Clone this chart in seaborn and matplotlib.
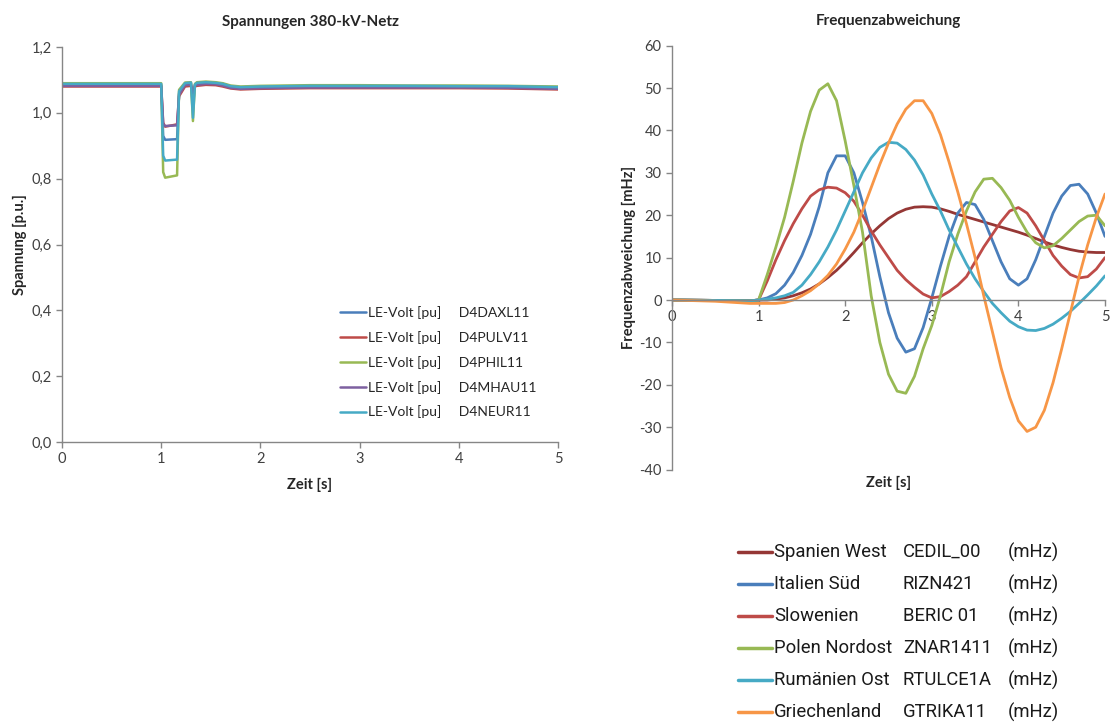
import numpy as np
import pandas as pd
import seaborn as sns
import matplotlib.pyplot as plt
from matplotlib.lines import Line2D

# Spannungen 380-kV-Netz (left chart)
volt_time = [0.0, 1.0, 1.02, 1.04, 1.16, 1.18, 1.24, 1.30, 1.32, 1.34, 1.36,
             1.45, 1.55, 1.62, 1.70, 1.80, 2.0, 2.5, 3.0, 3.5, 4.0, 4.5, 5.0]
volt_codes = ["D4DAXL11", "D4PULV11", "D4PHIL11", "D4MHAU11", "D4NEUR11"]
volt_colors = ["#4A7EBB", "#BE4B48", "#98B954", "#7D60A0", "#46AAC5"]
volt_daxl = [1.085, 1.085, 0.930, 0.918, 0.920, 1.060, 1.088, 1.090, 1.020, 1.085, 1.090,
             1.092, 1.090, 1.088, 1.080, 1.076, 1.078, 1.080, 1.080, 1.080, 1.079, 1.079, 1.076]
volt_pulv = [1.080, 1.080, 0.970, 0.958, 0.965, 1.050, 1.080, 1.082, 1.060, 1.080, 1.082,
             1.085, 1.084, 1.080, 1.074, 1.071, 1.073, 1.075, 1.075, 1.075, 1.075, 1.074, 1.071]
volt_phil = [1.090, 1.090, 0.820, 0.803, 0.810, 1.070, 1.092, 1.093, 0.975, 1.088, 1.093,
             1.095, 1.093, 1.090, 1.083, 1.080, 1.082, 1.084, 1.084, 1.083, 1.083, 1.082, 1.080]
volt_mhau = [1.082, 1.082, 0.965, 0.960, 0.962, 1.055, 1.084, 1.086, 1.060, 1.082, 1.085,
             1.088, 1.087, 1.083, 1.076, 1.073, 1.075, 1.077, 1.077, 1.077, 1.077, 1.076, 1.073]
volt_neur = [1.088, 1.088, 0.870, 0.855, 0.858, 1.065, 1.090, 1.092, 0.985, 1.086, 1.091,
             1.093, 1.091, 1.088, 1.081, 1.078, 1.080, 1.082, 1.082, 1.082, 1.081, 1.081, 1.078]
volt_series = [volt_daxl, volt_pulv, volt_phil, volt_mhau, volt_neur]

# Frequenzabweichung (right chart)
freq_time = [0.0, 0.5, 0.9, 1.0, 1.1, 1.2, 1.3, 1.4, 1.5, 1.6, 1.7, 1.8, 1.9,
             2.0, 2.1, 2.2, 2.3, 2.4, 2.5, 2.6, 2.7, 2.8, 2.9,
             3.0, 3.1, 3.2, 3.3, 3.4, 3.5, 3.6, 3.7, 3.8, 3.9,
             4.0, 4.1, 4.2, 4.3, 4.4, 4.5, 4.6, 4.7, 4.8, 4.9, 5.0]
freq_names = ["Spanien West", "Italien Süd", "Slowenien", "Polen Nordost", "Rumänien Ost", "Griechenland"]
freq_codes = ["CEDIL_00", "RIZN421", "BERIC 01", "ZNAR1411", "RTULCE1A", "GTRIKA11"]
freq_colors = ["#953735", "#4A7EBB", "#BE4B48", "#98B954", "#46AAC5", "#F79646"]
freq_spanien = [0.0, -0.1, -0.2, 0.0, 0.0, 0.2, 0.5, 1.0, 1.7, 2.6, 3.8, 5.3, 7.0,
                9.0, 11.2, 13.5, 15.6, 17.5, 19.2, 20.5, 21.4, 21.9, 22.0,
                21.9, 21.5, 20.9, 20.2, 19.6, 19.0, 18.4, 17.8, 17.2, 16.6,
                16.0, 15.3, 14.5, 13.7, 13.0, 12.4, 11.9, 11.5, 11.3, 11.2, 11.2]
freq_italien = [0.0, -0.1, -0.2, 0.0, 0.5, 1.5, 3.5, 6.5, 10.5, 15.5, 22.0, 30.0, 34.0,
                34.0, 30.0, 23.0, 15.0, 5.5, -3.0, -9.0, -12.3, -11.5, -6.5,
                0.5, 8.0, 15.0, 20.5, 23.0, 22.5, 19.0, 14.0, 9.0, 5.0,
                3.5, 5.0, 9.5, 15.0, 20.5, 24.5, 27.0, 27.3, 25.0, 20.5, 15.0]
freq_slowenien = [0.0, -0.1, -0.2, 0.0, 4.5, 9.5, 14.0, 18.0, 21.5, 24.5, 26.0, 26.6, 26.4,
                  25.3, 23.3, 20.0, 16.3, 13.0, 10.0, 7.0, 4.8, 3.0, 1.4,
                  0.5, 0.8, 2.0, 3.5, 5.5, 9.0, 12.5, 15.5, 18.5, 21.0,
                  21.8, 20.5, 17.5, 14.0, 10.5, 8.0, 6.0, 5.2, 5.5, 7.3, 10.0]
freq_polen = [0.0, -0.1, -0.2, 0.0, 6.0, 12.5, 19.5, 28.0, 37.0, 44.5, 49.5, 51.0, 47.0,
              37.5, 27.0, 16.0, 1.0, -10.0, -17.5, -21.5, -22.0, -18.0, -11.5,
              -6.0, 1.0, 9.0, 15.5, 21.0, 25.5, 28.5, 28.7, 26.5, 23.5,
              19.5, 16.0, 13.5, 12.3, 12.8, 14.5, 16.5, 18.5, 19.8, 20.0, 17.5]
freq_rumaenien = [0.0, -0.1, -0.2, 0.0, 0.2, 0.5, 1.0, 1.8, 3.5, 6.0, 9.0, 12.5, 16.5,
                  21.0, 25.5, 30.0, 33.5, 36.0, 37.2, 37.0, 35.5, 33.0, 29.5,
                  25.0, 21.0, 16.5, 12.5, 8.5, 5.0, 2.0, -0.8, -3.0, -5.0,
                  -6.3, -7.1, -7.2, -6.7, -5.7, -4.3, -2.7, -0.8, 1.2, 3.3, 5.7]
freq_griechenland = [0.0, -0.3, -0.8, -0.8, -0.8, -0.8, -0.6, 0.0, 1.0, 2.2, 3.8, 5.8, 8.5,
                     12.0, 16.0, 21.0, 26.5, 32.0, 37.0, 41.5, 45.0, 47.0, 47.0,
                     44.0, 39.0, 32.5, 25.5, 18.0, 10.0, 1.0, -7.5, -16.0, -23.0,
                     -28.5, -31.0, -30.0, -26.0, -19.5, -11.5, -3.0, 5.5, 13.0, 19.5, 25.0]
freq_series = [freq_spanien, freq_italien, freq_slowenien, freq_polen, freq_rumaenien, freq_griechenland]

sns.set_style("white")
plt.rcParams['font.family'] = ['Lato', 'DejaVu Sans']
plt.rcParams['axes.unicode_minus'] = False

fig = plt.figure(figsize=(11.1, 7.22), dpi=100)
ax1 = fig.add_axes([62 / 1110, 1 - 442 / 722, 496 / 1110, 395 / 722])
ax2 = fig.add_axes([672 / 1110, 1 - 469.6 / 722, 433 / 1110, 424 / 722])

axis_grey = "#868686"
text_col = "#262626"

# Left chart
for code, color, vals in zip(volt_codes, volt_colors, volt_series):
    sns.lineplot(x=volt_time, y=vals, ax=ax1, color=color, linewidth=1.8,
                 label=f"LE-Volt [pu]     {code}")
ax1.set_xlim(0, 5)
ax1.set_ylim(0, 1.2)
ax1.set_xticks(range(6))
ax1.set_yticks([0, 0.2, 0.4, 0.6, 0.8, 1.0, 1.2])
ax1.set_yticklabels(["0,0", "0,2", "0,4", "0,6", "0,8", "1,0", "1,2"])
ax1.set_title("Spannungen 380-kV-Netz", fontsize=11, fontweight="bold", color=text_col, pad=15)
ax1.set_xlabel("Zeit [s]", fontsize=10.5, fontweight="bold", color=text_col, labelpad=8)
ax1.set_ylabel("Spannung [p.u.]", fontsize=10.5, fontweight="bold", color=text_col, labelpad=3)
ax1.legend(loc="upper left", bbox_to_anchor=(0.535, 0.375), frameon=False,
           fontsize=10, handlelength=1.9, handletextpad=0.1, labelspacing=0.85,
           labelcolor=text_col)

# Right chart
for name, color, vals in zip(freq_names, freq_colors, freq_series):
    sns.lineplot(x=freq_time, y=vals, ax=ax2, color=color, linewidth=2.0)
ax2.set_xlim(0, 5)
ax2.set_ylim(-40, 60)
ax2.set_xticks(range(6))
ax2.set_yticks(range(-40, 61, 10))
ax2.spines["bottom"].set_position(("data", 0))
ax2.set_title("Frequenzabweichung", fontsize=11, fontweight="bold", color=text_col, pad=15)
ax2.set_xlabel("Zeit [s]", fontsize=10.5, fontweight="bold", color=text_col)
ax2.xaxis.set_label_coords(0.5, -0.015)
ax2.set_ylabel("Frequenzabweichung [mHz]", fontsize=10.5, fontweight="bold", color=text_col, labelpad=2)

for ax in (ax1, ax2):
    for side in ("top", "right"):
        ax.spines[side].set_visible(False)
    for side in ("left", "bottom"):
        ax.spines[side].set_color(axis_grey)
        ax.spines[side].set_linewidth(1.0)
    ax.tick_params(axis="both", direction="out", length=4, width=1, color=axis_grey,
                   labelsize=10.5, labelcolor="#404040", bottom=True, left=True)

# Legend below the right chart
rows_y = [552, 584, 616, 648, 680, 712]
for name, code, color, ry in zip(freq_names, freq_codes, freq_colors, rows_y):
    fy = 1 - ry / 722
    fig.add_artist(Line2D([738 / 1110, 772 / 1110], [fy, fy], transform=fig.transFigure,
                          color=color, linewidth=2.5))
    for xp, txt in ((774, name), (903, code), (1008, "(mHz)")):
        fig.text(xp / 1110, fy, txt, fontsize=13.3, family=["Roboto", "DejaVu Sans"],
                 color="#1a1a1a", va="center", ha="left")

fig.savefig("out.png", dpi=100, facecolor="white")
